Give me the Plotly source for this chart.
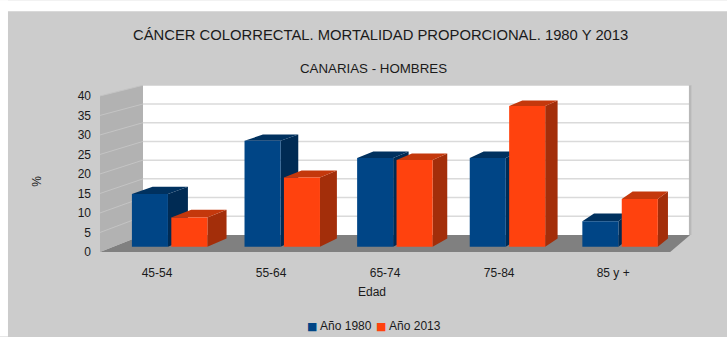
import plotly.graph_objects as go

# ---- data -------------------------------------------------------------
categories = ["45-54", "55-64", "65-74", "75-84", "85 y +"]
anio_1980 = [13.7, 27.5, 23.0, 23.0, 6.6]
anio_2013 = [7.6, 18.0, 22.5, 36.5, 12.4]
y_ticks = [0, 5, 10, 15, 20, 25, 30, 35, 40]
series_names = ["Año 1980", "Año 2013"]

# ---- styling ----------------------------------------------------------
FONT = "Liberation Sans, Arial, sans-serif"
TXT = "#1a1a1a"
BG = "#cccccc"
FACE = {"Año 1980": ("#004586", "#00315f", "#002b54"),
        "Año 2013": ("#ff420e", "#c4380c", "#a32e0a")}

W, H = 727, 337
M_L, M_R, M_T, M_B = 100, 34.2, 85, 84.7
X_RANGE = [-0.5, 4.7]
Y_RANGE = [0, 42.8]

# ---- simple perspective for the 3D look ------------------------------
# depth d: 0 = front plane, 1 = back wall; points recede toward (VX, VV)
K = 0.0404
VX, VV = 8.833, 107.75
D0, D1 = 0.31, 0.80          # bar depth span
WALL_TOP = y_ticks[-1]
X_LEFT, X_RIGHT = -0.5, len(categories) - 0.5
HALF_GAP, BAR_W = 0.015, 0.32


def proj(x, v, d):
    return x + d * K * (VX - x), v + d * K * (VV - v)


def add_poly(xs, ys, pts):
    for p in pts + [pts[0]]:
        px, py = proj(*p)
        xs.append(px)
        ys.append(py)
    xs.append(None)
    ys.append(None)


def add_seg(xs, ys, a, b):
    for p in (a, b):
        px, py = proj(*p)
        xs.append(px)
        ys.append(py)
    xs.append(None)
    ys.append(None)


def fill_trace(xs, ys, color, name=None):
    return go.Scatter(x=xs, y=ys, mode="lines", fill="toself", fillcolor=color,
                      line=dict(width=0, color=color), hoverinfo="skip",
                      showlegend=False, cliponaxis=False, name=name)


fig = go.Figure()

# floor
fx, fy = [], []
add_poly(fx, fy, [(X_LEFT, 0, 0), (X_RIGHT, 0, 0), (X_RIGHT, 0, 1), (X_LEFT, 0, 1)])
fig.add_trace(fill_trace(fx, fy, "#808080"))

# left side wall
lx, ly = [], []
add_poly(lx, ly, [(X_LEFT, 0, 0), (X_LEFT, 0, 1), (X_LEFT, WALL_TOP, 1), (X_LEFT, WALL_TOP, 0)])
fig.add_trace(fill_trace(lx, ly, "#b2b2b2"))

# back wall
bx, by = [], []
add_poly(bx, by, [(X_LEFT, 0, 1), (X_RIGHT, 0, 1), (X_RIGHT, WALL_TOP, 1), (X_LEFT, WALL_TOP, 1)])
fig.add_trace(fill_trace(bx, by, "#ffffff"))

# grid lines on the walls
gx, gy, sx, sy = [], [], [], []
for t in y_ticks[1:]:
    add_seg(gx, gy, (X_LEFT, t, 1), (X_RIGHT, t, 1))
    add_seg(sx, sy, (X_LEFT, t, 0), (X_LEFT, t, 1))
fig.add_trace(go.Scatter(x=gx, y=gy, mode="lines", line=dict(color="#dadada", width=1.5),
                         hoverinfo="skip", showlegend=False, cliponaxis=False))
fig.add_trace(go.Scatter(x=sx, y=sy, mode="lines", line=dict(color="#c4c4c4", width=1),
                         hoverinfo="skip", showlegend=False, cliponaxis=False))

# right edge of the back wall
ex, ey = [], []
add_seg(ex, ey, (X_RIGHT, 0, 1), (X_RIGHT, WALL_TOP, 1))
fig.add_trace(go.Scatter(x=ex, y=ey, mode="lines", line=dict(color="#b8b8b8", width=2.5),
                         hoverinfo="skip", showlegend=False, cliponaxis=False))

# bars: side, top and front faces per series
for name, values, (x0_off, x1_off) in (
        (series_names[0], anio_1980, (-HALF_GAP - BAR_W, -HALF_GAP)),
        (series_names[1], anio_2013, (HALF_GAP, HALF_GAP + BAR_W))):
    front_c, top_c, side_c = FACE[name]
    side_x, side_y, top_x, top_y, fr_x, fr_y = [], [], [], [], [], []
    for i, v in enumerate(values):
        a, b = i + x0_off, i + x1_off
        add_poly(side_x, side_y, [(b, 0, D0), (b, 0, D1), (b, v, D1), (b, v, D0)])
        add_poly(top_x, top_y, [(a, v, D0), (b, v, D0), (b, v, D1), (a, v, D1)])
        add_poly(fr_x, fr_y, [(a, 0, D0), (b, 0, D0), (b, v, D0), (a, v, D0)])
    fig.add_trace(fill_trace(side_x, side_y, side_c))
    fig.add_trace(fill_trace(top_x, top_y, top_c))
    fig.add_trace(fill_trace(fr_x, fr_y, front_c, name=name))

# ---- pixel helpers for text placement --------------------------------
PW = W - M_L - M_R
PH = H - M_T - M_B


def px_x(px):
    return (px - M_L) / PW


def px_y(py):
    return (H - M_B - py) / PH


annotations = [
    dict(text="CÁNCER COLORRECTAL. MORTALIDAD PROPORCIONAL. 1980 Y 2013",
         x=px_x(380), y=px_y(35), font=dict(size=14.8, color=TXT, family=FONT)),
    dict(text="CANARIAS - HOMBRES", x=px_x(373), y=px_y(68),
         font=dict(size=13.3, color=TXT, family=FONT)),
    dict(text="Edad", x=px_x(372), y=px_y(292), font=dict(size=12, color=TXT, family=FONT)),
    dict(text="%", x=px_x(37), y=px_y(181), textangle=-90,
         font=dict(size=12, color=TXT, family=FONT)),
]
for a in annotations:
    a.update(xanchor="center")

# legend: coloured square + series name
for name, left_px in zip(series_names, (305, 374)):
    annotations.append(dict(
        text=f'<span style="color:{FACE[name][0]};font-family:DejaVu Sans;font-size:11px">■</span> {name}',
        x=px_x(left_px), y=px_y(326), xanchor="left",
        font=dict(size=12, color=TXT, family=FONT)))

for a in annotations:
    a.update(xref="paper", yref="paper", showarrow=False, yanchor="middle")

shapes = [
    dict(type="rect", xref="paper", yref="paper", layer="below",
         x0=px_x(0), x1=px_x(W), y0=px_y(11), y1=px_y(0),
         fillcolor="#ffffff", line=dict(width=0)),
    dict(type="rect", xref="paper", yref="paper", layer="below",
         x0=px_x(0), x1=px_x(8), y0=px_y(H), y1=px_y(0),
         fillcolor="#ffffff", line=dict(width=0)),
]

fig.update_layout(
    width=W, height=H,
    margin=dict(l=M_L, r=M_R, t=M_T, b=M_B, pad=0, autoexpand=False),
    paper_bgcolor=BG, plot_bgcolor="rgba(0,0,0,0)",
    font=dict(family=FONT, size=12, color=TXT),
    annotations=annotations, shapes=shapes,
    showlegend=False,
    xaxis=dict(range=X_RANGE, tickmode="array", tickvals=list(range(len(categories))),
               ticktext=categories, showgrid=False, zeroline=False, showline=False,
               ticks="", ticklabelstandoff=12, tickfont=dict(size=12, color=TXT),
               fixedrange=True, automargin=False),
    yaxis=dict(range=Y_RANGE, tickmode="array", tickvals=y_ticks,
               showgrid=False, zeroline=False, showline=False, ticks="",
               ticklabelstandoff=8, tickfont=dict(size=12, color=TXT), fixedrange=True,
               automargin=False),
)

fig.write_html("out.html")
